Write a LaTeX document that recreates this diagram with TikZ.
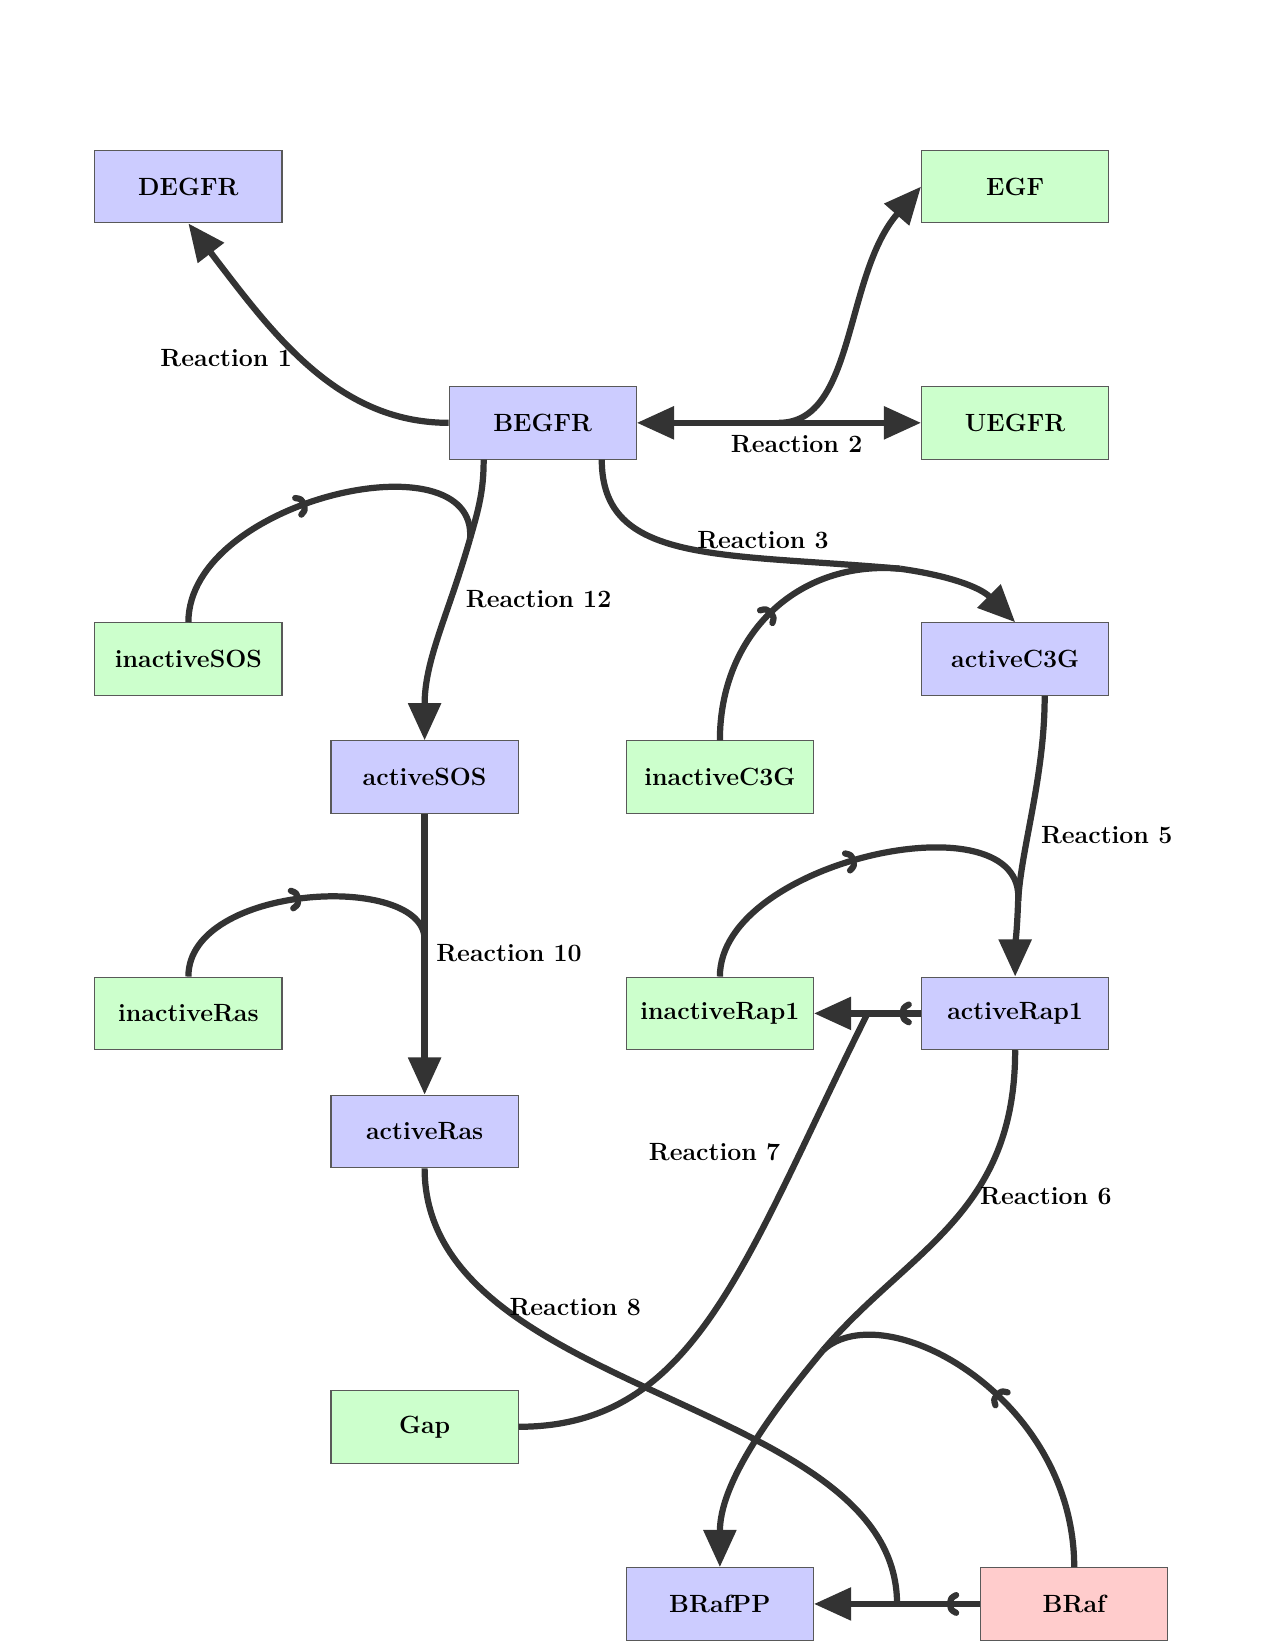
\documentclass[tikz,border=0pt]{standalone}
\usetikzlibrary{arrows.meta,decorations.markings}

\definecolor{edgegray}{RGB}{51,51,51}

\tikzset{
  species/.style={draw=black!65, line width=0.5pt, minimum width=3.17cm,
    minimum height=1.23cm, inner sep=0pt, font=\large\bfseries},
  protein/.style={species, fill=blue!20},
  molecule/.style={species, fill=green!20},
  kinase/.style={species, fill=red!20},
  rxnline/.style={edgegray, draw, line width=3pt},
  product/.style={rxnline, -{Triangle[length=6.3mm, width=5.4mm]}},
  % reactant line with a small curved barb pointing along the path
  barbed/.style={rxnline, postaction={decorate},
    decoration={markings, mark=at position #1 with
      {\draw[edgegray, line width=3pt, line cap=round, line join=round]
        (-1.0mm,1.5mm) .. controls (-0.1mm,1.0mm) .. (0,0)
        .. controls (-0.1mm,-1.0mm) .. (-1.0mm,-1.5mm);}}},
  rlabel/.style={font=\large\bfseries, inner sep=0pt},
}

\begin{document}
\begin{tikzpicture}
\useasboundingbox (-0.19,0.16) rectangle (21.40,-27.78);

% species
\node[protein]  (DEGFR)        at (3,-3)   {DEGFR};
\node[molecule] (EGF)          at (17,-3)  {EGF};
\node[protein]  (BEGFR)        at (9,-7)   {BEGFR};
\node[molecule] (UEGFR)        at (17,-7)  {UEGFR};
\node[molecule] (inactiveSOS)  at (3,-11)  {inactiveSOS};
\node[protein]  (activeC3G)    at (17,-11) {activeC3G};
\node[protein]  (activeSOS)    at (7,-13)  {activeSOS};
\node[molecule] (inactiveC3G)  at (12,-13) {inactiveC3G};
\node[molecule] (inactiveRas)  at (3,-17)  {inactiveRas};
\node[molecule] (inactiveRap1) at (12,-17) {inactiveRap1};
\node[protein]  (activeRap1)   at (17,-17) {activeRap1};
\node[protein]  (activeRas)    at (7,-19)  {activeRas};
\node[molecule] (Gap)          at (7,-24)  {Gap};
\node[protein]  (BRafPP)       at (12,-27) {BRafPP};
\node[kinase]   (BRaf)         at (18,-27) {BRaf};

% reaction junctions
\coordinate (r2)  at (13,-7);
\coordinate (r3)  at (15.05,-9.47);
\coordinate (r12) at (7.77,-8.96);
\coordinate (r10) at (7,-15.75);
\coordinate (r5)  at (17.05,-15.1);
\coordinate (r7)  at (14.5,-17);
\coordinate (r6)  at (13.75,-22.7);
\coordinate (r8)  at (15,-27);

% Reaction 1
\draw[product] (BEGFR.west) .. controls (5.5,-7) and (4.4,-5.45) .. (DEGFR.south);

% Reaction 2
\draw[product] (r2) -- (BEGFR.east);
\draw[product] (r2) -- (UEGFR.west);
\draw[product] (r2) .. controls (14.3,-7) and (14.1,-4.5) .. (EGF.west);

% Reaction 3
\draw[rxnline] ([xshift=1cm]BEGFR.south) .. controls (10,-9.4) and (12,-9.2) .. (r3);
\draw[barbed=0.5] (inactiveC3G.north) .. controls (12,-10.6) and (13.3,-9.32) .. (r3);
\draw[product] (r3) to[out=-8, in=135] (activeC3G.north);

% Reaction 12
\draw[rxnline] ([xshift=-1cm]BEGFR.south) to[out=-90, in=74] (r12);
\draw[barbed=0.47] (inactiveSOS.north) .. controls (3,-8.3) and (7.9,-7.2) .. (r12);
\draw[product] (r12) to[out=-106, in=90] (activeSOS.north);

% Reaction 10
\draw[rxnline] (activeSOS.south) -- (r10);
\draw[barbed=0.5] (inactiveRas.north) .. controls (3,-14.8) and (7,-14.6) .. (r10);
\draw[product] (r10) -- (activeRas.north);

% Reaction 5
\draw[rxnline] ([xshift=0.5cm]activeC3G.south) .. controls (17.5,-13) and (17.1,-14.2) .. (r5);
\draw[barbed=0.49] (inactiveRap1.north) .. controls (12,-14.4) and (17.2,-13.3) .. (r5);
\draw[product] (r5) to[out=-92, in=90] (activeRap1.north);

% Reaction 7
\draw[barbed=0.34] (activeRap1.west) -- (r7);
\draw[rxnline] (Gap.east) .. controls (11.6,-24) and (12.4,-21.2) .. (r7);
\draw[product] (r7) -- (inactiveRap1.east);

% Reaction 6
\draw[rxnline] (activeRap1.south) .. controls (17,-20.4) and (15.2,-21.0) .. (r6);
\draw[barbed=0.5] (BRaf.north) .. controls (18,-23.5) and (14.8,-21.75) .. (r6);
\draw[product] (r6) .. controls (12.79,-23.85) and (12,-24.98) .. (BRafPP.north);

% Reaction 8
\draw[rxnline] (activeRas.south) .. controls (7,-23.5) and (15,-23.5) .. (r8);
\draw[barbed=0.36] (BRaf.west) -- (r8);
\draw[product] (r8) -- (BRafPP.east);

% reaction labels
\node[rlabel] (l1)  at (3.64,-5.90)   {Reaction 1};
\node[rlabel] (l2)  at (13.30,-7.36)  {Reaction 2};
\node[rlabel] (l3)  at (12.73,-8.98)  {Reaction 3};
\node[rlabel] (l12) at (8.93,-9.99)   {Reaction 12};
\node[rlabel] (l10) at (8.43,-15.98)  {Reaction 10};
\node[rlabel] (l5)  at (18.55,-13.98) {Reaction 5};
\node[rlabel] (l7)  at (11.91,-19.35) {Reaction 7};
\node[rlabel] (l6)  at (17.52,-20.10) {Reaction 6};
\node[rlabel] (l8)  at (9.55,-21.98)  {Reaction 8};
\end{tikzpicture}
\end{document}
